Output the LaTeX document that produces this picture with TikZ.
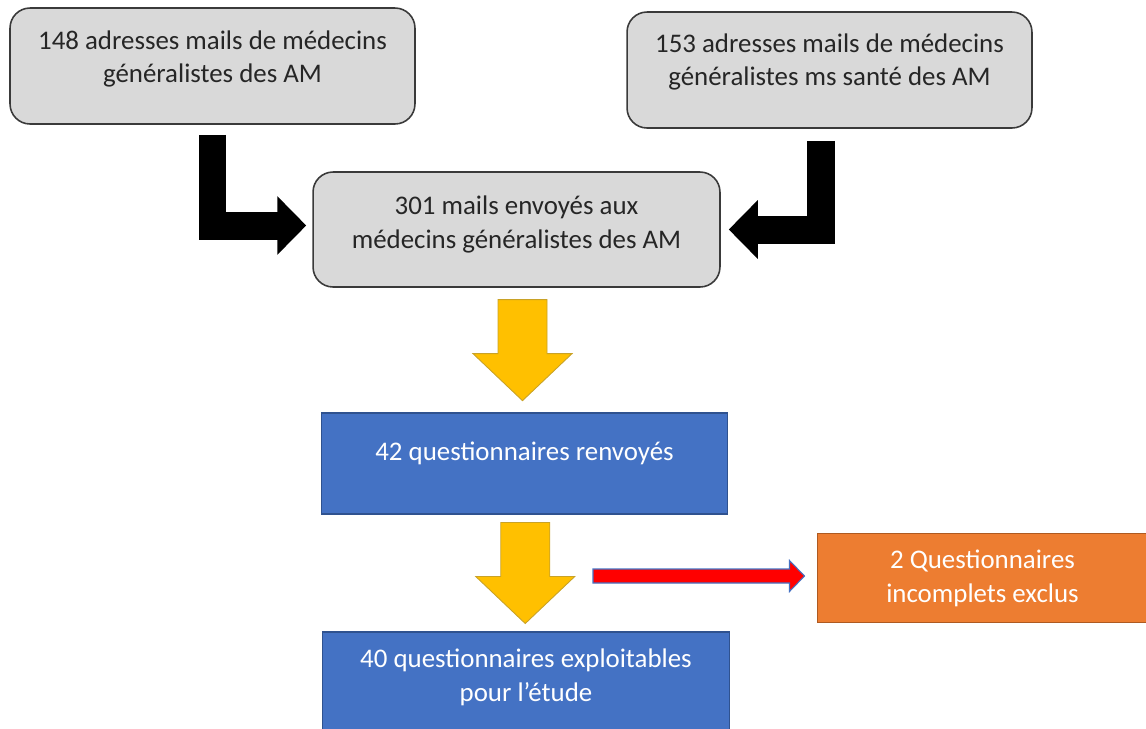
\documentclass[tikz,border=0pt]{standalone}
\usepackage{fontspec}
\setmainfont{Carlito}
\usetikzlibrary{arrows.meta,%
                calc,%
                positioning}

\definecolor{boxgray}{HTML}{D9D9D9}
\definecolor{edgegray}{HTML}{3A3A3A}
\definecolor{txtgray}{HTML}{262626}
\definecolor{officeblue}{HTML}{4472C4}
\definecolor{blueedge}{HTML}{2F528F}
\definecolor{officeorange}{HTML}{ED7D31}
\definecolor{orangeedge}{HTML}{AE5A21}
\definecolor{officeyellow}{HTML}{FFC000}
\definecolor{yellowedge}{HTML}{C9A227}

\begin{document}
\begin{tikzpicture}[x=0.02cm, y=-0.02cm,
graybox/.style={rectangle, rounded corners=0.4cm, draw=edgegray, line width=0.9pt,
fill=boxgray, minimum width=8.1cm, minimum height=2.32cm, inner sep=0pt},
%
bluebox/.style={rectangle, draw=blueedge, line width=0.6pt, fill=officeblue,
minimum width=8.14cm, minimum height=2.02cm, inner sep=0pt},
%
orangebox/.style={rectangle, draw=orangeedge, line width=0.6pt, fill=officeorange,
minimum width=6.62cm, minimum height=1.78cm, inner sep=0pt},
%
darktext/.style={align=center, text=txtgray, inner sep=0pt,
font=\fontsize{15.3}{19.3}\selectfont},
%
lighttext/.style={align=center, text=white, inner sep=0pt,
font=\fontsize{15.3}{19.3}\selectfont},
%
bentarrow/.style={draw=black, line width=0.56cm, line join=miter,
-{Triangle[length=0.58cm, width=1.14cm]}},
%
yellowarrow/.style={draw=yellowedge, line width=0.5pt, fill=officeyellow},
%
redarrow/.style={draw=officeblue, line width=0.6pt, fill=red},
%
downarrow/.pic={\draw[yellowarrow] (-24.5,-50.5) -- (24.5,-50.5) -- (24.5,3.5)
  -- (49.5,3.5) -- (0,50.5) -- (-49.5,3.5) -- (-24.5,3.5) -- cycle;}]

\useasboundingbox (0,0) rectangle (1146,728);

% sources
\node [graybox] (adrAM) at (212.5,66) {};
\node [darktext] (adrAMtext) at ($(adrAM.center)+(0,-7)$)
  {148 adresses mails de médecins\\généralistes des AM};
%
\node [graybox] (adrMS) at (829.5,70) {};
\node [darktext] (adrMStext) at ($(adrMS.center)+(0,-8)$)
  {153 adresses mails de médecins\\généralistes ms santé des AM};
%%%%%%%%%%%%%%%%%%%%%%%%%%%%%%%%%%

\node [graybox, minimum width=8.14cm, minimum height=2.3cm] (mails) at (516.5,229.5) {};
\node [darktext] (mailstext) at ($(mails.center)+(0,-5)$)
  {301 mails envoyés aux\\médecins généralistes des AM};
%%%%%%%%%%%%%%%%%%%%%%%%%%%%%%%%%%

\node [bluebox] (renvoyes) at (524.5,463.5) {};
\node [lighttext] (renvoyestext) at ($(renvoyes.center)+(0,-10.5)$)
  {42 questionnaires renvoyés};
%
\node [bluebox, minimum height=2.16cm] (exploit) at (526,686) {};
\node [lighttext] (exploittext) at ($(exploit.center)+(0,-8.5)$)
  {40 questionnaires exploitables\\pour l’étude};
%
\node [orangebox] (exclus) at (982.5,578) {};
\node [lighttext] (exclustext) at (exclus.center)
  {2 Questionnaires\\incomplets exclus};
%%%%%%%%%%%%%%%%%%%%%%%%%%%%%%%%%%

\begin{scope}
  \draw[bentarrow] ($(adrAM.south)+(0,10)$) |- ($(mails.west)+(-6,-4)$);
  \draw[bentarrow] ($(adrMS.south)+(-8.5,12)$) |- ($(mails.east)+(8,0)$);
  %%%%%%%%%%%%%%%%%%%%%%%%%%%%%%%%%%%%%
  \pic (yellowA) at ($(mails.south)!0.5!(renvoyes.north)+(2,0)$) {downarrow};
  \pic (yellowB) at ($(renvoyes.south)!0.5!(exploit.north)$) {downarrow};
  %%%%%%%%%%%%%%%%%%%%%%%%%%%%%%%%%%%%%
  \coordinate (redtip) at ($(exclus.west)+(-12,-2)$);
  \coordinate (redstart) at (593,576);
  \draw[redarrow] ($(redstart)+(0,-7)$) -- ($(redtip)+(-15,-7)$)
    -- ($(redtip)+(-15,-15.5)$) -- (redtip) -- ($(redtip)+(-15,15.5)$)
    -- ($(redtip)+(-15,7)$) -- ($(redstart)+(0,7)$) -- cycle;
\end{scope}

\end{tikzpicture}
\end{document}
